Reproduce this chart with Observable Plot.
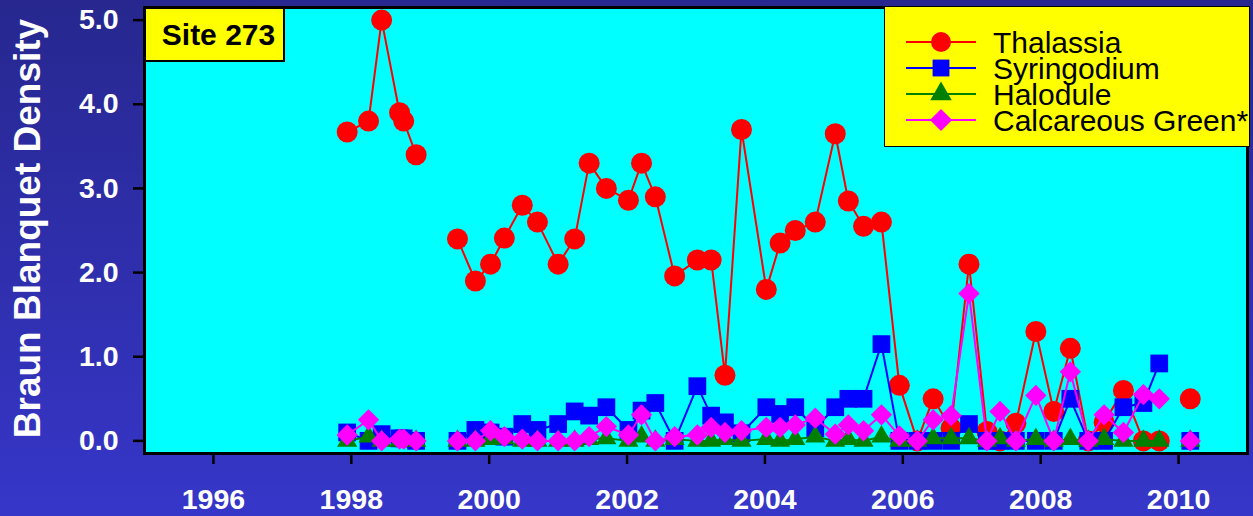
<!DOCTYPE html>
<html><head><meta charset="utf-8">
<script src="https://cdn.jsdelivr.net/npm/d3@7"></script>
<script src="https://cdn.jsdelivr.net/npm/@observablehq/plot@0.6"></script>
<style>
html,body{margin:0;padding:0;background:#2e2eab;}
#wrap{position:relative;width:1253px;height:516px;background:linear-gradient(to bottom,#27278f,#3636c9);font-family:"Liberation Sans",Arial,sans-serif;overflow:hidden;}
#wrap svg.chart{position:absolute;left:0;top:0;}
#site{position:absolute;left:144px;top:7px;width:141px;height:55px;box-sizing:border-box;background:#ffff00;border:2px solid #000;display:flex;align-items:center;justify-content:center;padding-left:8px;font-weight:bold;font-size:30px;color:#000;}
#legend{position:absolute;left:884px;top:6px;width:366px;height:141px;box-sizing:border-box;background:#ffff00;border:1.5px solid #000;overflow:hidden;}
</style></head>
<body><div id="wrap"><div id="site"></div><div id="legend"></div></div>
<script>
// ---- data ----
const siteLabel = "Site 273";
const yLabel = "Braun Blanquet Density";
const seriesNames = ["Thalassia", "Syringodium", "Halodule", "Calcareous Green*"];
const xTicks = [1996, 1998, 2000, 2002, 2004, 2006, 2008, 2010];
const yTicks = [0, 1, 2, 3, 4, 5];

const dates = [
  1997.94, 1998.25, 1998.44, 1998.70, 1998.76, 1998.94,
  1999.54, 1999.80, 2000.02, 2000.22, 2000.48, 2000.70,
  2001.00, 2001.24, 2001.45, 2001.70,
  2002.02, 2002.21, 2002.41, 2002.69,
  2003.02, 2003.22, 2003.42, 2003.66,
  2004.02, 2004.22, 2004.44, 2004.73,
  2005.02, 2005.21, 2005.43, 2005.69, 2005.95,
  2006.21, 2006.44, 2006.70, 2006.96,
  2007.22, 2007.41, 2007.64, 2007.93,
  2008.19, 2008.43, 2008.69, 2008.92,
  2009.20, 2009.49, 2009.72,
  2010.17
];
const survey = [
  1,1,1,1,1,1,
  2,2,2,2,2,2, 2,2,2,2, 2,2,2,2, 2,2,2,2, 2,2,2,2, 2,2,2,2,2, 2,2,2,2, 2,2,2,2, 2,2,2,2, 2,2,2,
  3
];
const thalassia = [
  3.67, 3.80, 5.00, 3.90, 3.80, 3.40,
  2.40, 1.90, 2.10, 2.41, 2.80, 2.60,
  2.10, 2.40, 3.30, 3.00,
  2.86, 3.30, 2.90, 1.96,
  2.15, 2.15, 0.78, 3.70,
  1.80, 2.35, 2.50, 2.60,
  3.65, 2.85, 2.55, 2.60, 0.66,
  0.00, 0.50, 0.15, 2.10,
  0.11, 0.00, 0.21, 1.30,
  0.35, 1.10, 0.00, 0.22,
  0.60, 0.00, 0.00,
  0.50
];
const syringodium = [
  0.10, 0.00, 0.08, 0.03, 0.03, 0.00,
  0.00, 0.13, 0.10, 0.05, 0.20, 0.13,
  0.20, 0.35, 0.30, 0.40,
  0.13, 0.36, 0.45, 0.00,
  0.65, 0.30, 0.22, 0.09,
  0.40, 0.32, 0.40, 0.15,
  0.40, 0.50, 0.50, 1.15, 0.00,
  0.00, 0.00, 0.00, 0.20,
  0.00, 0.00, 0.00, 0.00,
  0.00, 0.50, 0.00, 0.00,
  0.40, 0.45, 0.92,
  0.00
];
const halodule = [
  0.00, 0.05, 0.00, 0.00, 0.00, 0.00,
  0.00, 0.00, 0.02, 0.03, 0.00, 0.00,
  0.00, 0.00, 0.02, 0.03,
  0.00, 0.05, 0.00, 0.02,
  0.00, 0.00, 0.02, 0.00,
  0.02, 0.00, 0.02, 0.05,
  0.00, 0.02, 0.00, 0.05, 0.00,
  0.00, 0.03, 0.03, 0.03,
  0.00, 0.03, 0.00, 0.02,
  0.00, 0.02, 0.00, 0.02,
  0.00, 0.00, 0.00,
  0.00
];
const calcareous = [
  0.07, 0.25, 0.00, 0.02, 0.02, 0.00,
  0.00, 0.00, 0.12, 0.05, 0.02, 0.00,
  0.00, 0.00, 0.05, 0.17,
  0.07, 0.31, 0.00, 0.05,
  0.07, 0.16, 0.10, 0.12,
  0.16, 0.16, 0.19, 0.27,
  0.08, 0.19, 0.12, 0.31, 0.06,
  0.00, 0.25, 0.30, 1.75,
  0.00, 0.35, 0.00, 0.54,
  0.00, 0.82, 0.00, 0.31,
  0.10, 0.55, 0.50,
  0.00
];

// ---- styles ----
const seriesValues = [thalassia, syringodium, halodule, calcareous];
const seriesColors = ["#ff0000", "#0000ff", "#008000", "#ff00ff"];
const seriesSymbols = ["circle", "square", "triangle", "diamond2"];
const seriesR = [10.5, 10, 7.5, 9.6];

const series = seriesNames.map((name, k) => ({
  name, color: seriesColors[k], symbol: seriesSymbols[k], r: seriesR[k],
  data: dates.map((d, i) => ({date: d, value: seriesValues[k][i], survey: survey[i]}))
}));

const marks = [Plot.frame({fill: "#00ffff"})];
for (const s of series) {
  marks.push(Plot.line(s.data, {x: "date", y: "value", z: "survey", stroke: s.color, strokeWidth: 2}));
  marks.push(Plot.dot(s.data, {x: "date", y: "value", symbol: s.symbol, r: s.r, fill: s.color, stroke: "none"}));
}
marks.push(Plot.frame({stroke: "#000", strokeWidth: 3}));
marks.push(Plot.axisX({ticks: xTicks, tickFormat: d => String(d), tickSize: 11, tickPadding: 24,
  stroke: "#000", strokeWidth: 2.5, fill: "#fff", fontSize: 28.5, fontWeight: "bold", label: null}));
marks.push(Plot.axisY({ticks: yTicks, tickFormat: d => d.toFixed(1), tickSize: 11, tickPadding: 15,
  stroke: "#000", strokeWidth: 2.5, fill: "#fff", fontSize: 28.5, fontWeight: "bold", label: null}));
marks.push(Plot.text([yLabel], {frameAnchor: "left", dx: -116, dy: -2, rotate: -90, fontSize: 37,
  fontWeight: "bold", fill: "#fff", textAnchor: "middle"}));

const chart = Plot.plot({
  width: 1253, height: 516,
  marginLeft: 144, marginRight: 6, marginTop: 7, marginBottom: 63,
  x: {domain: [1995, 2011]},
  y: {domain: [-0.15, 5.15]},
  style: {background: "transparent", fontFamily: "'Liberation Sans', Arial, sans-serif", overflow: "visible"},
  marks
});
chart.classList.add("chart");
const wrap = document.getElementById("wrap");
wrap.insertBefore(chart, wrap.firstChild);

document.getElementById("site").textContent = siteLabel;

// legend
const leg = d3.select("#legend").append("svg").attr("width", 366).attr("height", 141);
const symMap = {circle: d3.symbolCircle, square: d3.symbolSquare, triangle: d3.symbolTriangle, diamond2: d3.symbolDiamond2};
const legR = [10, 9.5, 8, 10];
series.forEach((s, k) => {
  const y = 35 + k * 26;
  const g = leg.append("g").attr("transform", `translate(0,${y})`);
  g.append("line").attr("x1", 21).attr("x2", 91).attr("y1", 0).attr("y2", 0).attr("stroke", s.color).attr("stroke-width", 2);
  g.append("path").attr("transform", "translate(56,0)")
    .attr("d", d3.symbol(symMap[s.symbol], Math.PI * legR[k] * legR[k])()).attr("fill", s.color);
  g.append("text").attr("x", 108).attr("y", 10.5).attr("font-size", 30)
    .attr("font-family", "'Liberation Sans', Arial, sans-serif").attr("fill", "#000").text(s.name);
});
</script></body></html>
